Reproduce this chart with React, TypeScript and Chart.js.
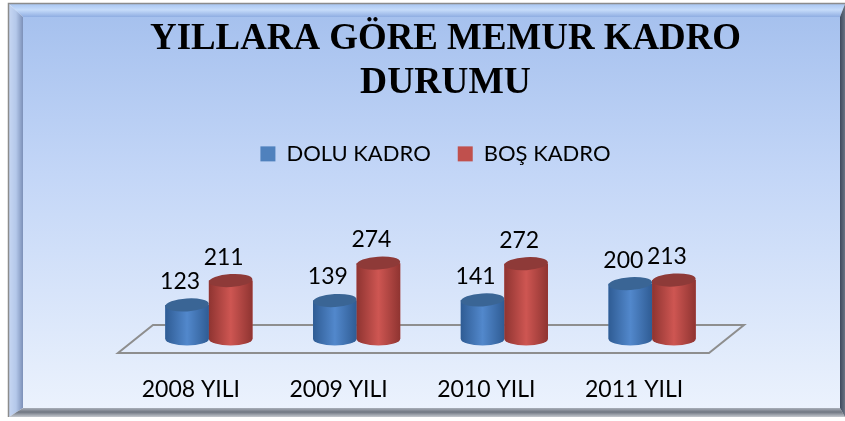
import React, { useEffect, useRef } from "react";
import { Chart, registerables } from "chart.js";

Chart.register(...registerables);

const titleLines = ["YILLARA GÖRE MEMUR KADRO", "DURUMU"];
const categories = ["2008 YILI", "2009 YILI", "2010 YILI", "2011 YILI"];
const doluKadro = [123, 139, 141, 200];
const bosKadro = [211, 274, 272, 213];
const seriesNames = ["DOLU KADRO", "BOŞ KADRO"];
const seriesColors = ["#4F81BD", "#C0504D"];

const W = 845;
const H = 421;

function shade(c: CanvasRenderingContext2D, x: number, w: number, edge: string, mid: string) {
  const g = c.createLinearGradient(x, 0, x + w, 0);
  g.addColorStop(0, edge);
  g.addColorStop(0.5, mid);
  g.addColorStop(1, edge);
  return g;
}

const framePlugin = {
  id: "frame",
  afterLayout(chart: any) {
    chart.titleBlock.left += 15;
    chart.titleBlock.right += 15;
    chart.legend.left += 5;
    chart.legend.right += 5;
    chart.legend.top += 2;
    chart.legend.bottom += 2;
  },
  beforeDraw(chart: any) {
    const c: CanvasRenderingContext2D = chart.ctx;
    c.save();
    c.fillStyle = "#ffffff";
    c.fillRect(0, 0, W, H);
    const L = 9, T = 4, R = 845, B = 417;
    const iL = 23, iT = 17, iR = 840, iB = 408;
    const bg = c.createLinearGradient(0, iT, 0, iB);
    bg.addColorStop(0, "#A6C1EE");
    bg.addColorStop(0.4, "#C3D6F7");
    bg.addColorStop(1, "#EBF2FD");
    c.fillStyle = bg;
    c.fillRect(iL, iT, iR - iL, iB - iT);
    const top = c.createLinearGradient(0, T, 0, iT);
    top.addColorStop(0, "#A9C6F2");
    top.addColorStop(0.45, "#C6DCFA");
    top.addColorStop(1, "#8FADE2");
    c.fillStyle = top;
    c.beginPath();
    c.moveTo(L, T); c.lineTo(R, T); c.lineTo(iR, iT); c.lineTo(iL, iT); c.closePath();
    c.fill();
    const left = c.createLinearGradient(L, 0, iL, 0);
    left.addColorStop(0, "#C6D6F2");
    left.addColorStop(0.5, "#B4C8EA");
    left.addColorStop(1, "#7C90B8");
    c.fillStyle = left;
    c.beginPath();
    c.moveTo(L, T); c.lineTo(iL, iT); c.lineTo(iL, iB); c.lineTo(L, B); c.closePath();
    c.fill();
    const bot = c.createLinearGradient(0, iB, 0, B);
    bot.addColorStop(0, "#A9AFB9");
    bot.addColorStop(0.45, "#6F7682");
    bot.addColorStop(1, "#C5C9CF");
    c.fillStyle = bot;
    c.beginPath();
    c.moveTo(iL, iB); c.lineTo(iR, iB); c.lineTo(R, B); c.lineTo(L, B); c.closePath();
    c.fill();
    const right = c.createLinearGradient(iR, 0, R, 0);
    right.addColorStop(0, "#3F4A5E");
    right.addColorStop(1, "#6A7483");
    c.fillStyle = right;
    c.beginPath();
    c.moveTo(iR, iT); c.lineTo(R, T); c.lineTo(R, B); c.lineTo(iR, iB); c.closePath();
    c.fill();
    c.strokeStyle = "#8C8C8C";
    c.lineWidth = 1.5;
    c.beginPath();
    c.moveTo(L - 0.5, B); c.lineTo(L - 0.5, T - 0.5); c.lineTo(R, T - 0.5);
    c.stroke();
    c.restore();
  },
};

const floorPlugin = {
  id: "floor",
  beforeDatasetsDraw(chart: any) {
    const c: CanvasRenderingContext2D = chart.ctx;
    const a = chart.chartArea;
    c.save();
    c.strokeStyle = "#8E8E8E";
    c.lineWidth = 2;
    c.beginPath();
    c.moveTo(a.left - 17, a.bottom + 14);
    c.lineTo(a.right - 17, a.bottom + 14);
    c.lineTo(a.right + 18, a.bottom - 14);
    c.lineTo(a.left + 18, a.bottom - 14);
    c.closePath();
    c.stroke();
    c.restore();
  },
};

const cylinderPalette = [
  { edge: "#2F5C94", mid: "#5288CC", top: "#3A6595" },
  { edge: "#8F3431", mid: "#CE5652", top: "#8E3A38" },
];

const cylinderPlugin = {
  id: "cylinders",
  afterDatasetsDraw(chart: any) {
    const c: CanvasRenderingContext2D = chart.ctx;
    const ry = 6.5;
    chart.data.datasets.forEach((ds: any, di: number) => {
      const meta = chart.getDatasetMeta(di);
      const pal = cylinderPalette[di];
      meta.data.forEach((bar: any, i: number) => {
        const rx = bar.width / 2;
        const cx = bar.x;
        const topY = bar.y;
        const baseY = bar.base;
        c.save();
        c.fillStyle = shade(c, cx - rx, rx * 2, pal.edge, pal.mid);
        c.beginPath();
        c.moveTo(cx - rx, topY);
        c.lineTo(cx - rx, baseY);
        c.ellipse(cx, baseY, rx, ry, 0, Math.PI, 0, true);
        c.lineTo(cx + rx, topY);
        c.closePath();
        c.fill();
        c.fillStyle = pal.top;
        c.beginPath();
        c.ellipse(cx, topY, rx, ry, -0.06, 0, Math.PI * 2);
        c.fill();
        c.fillStyle = "#000000";
        c.font = "23px Lato";
        c.textAlign = "center";
        c.textBaseline = "middle";
        c.fillText(String(ds.data[i]), cx - 7, topY - 23.5);
        c.restore();
      });
    });
  },
};

export default function App() {
  const ref = useRef<HTMLCanvasElement>(null);
  useEffect(() => {
    const chart = new Chart(ref.current!, {
      type: "bar",
      data: {
        labels: categories,
        datasets: [
          { label: seriesNames[0], data: doluKadro, backgroundColor: seriesColors[0], borderWidth: 0 },
          { label: seriesNames[1], data: bosKadro, backgroundColor: seriesColors[1], borderWidth: 0 },
        ],
      },
      options: {
        responsive: false,
        animation: false,
        events: [],
        layout: { padding: { left: 135, right: 119, top: 0, bottom: 0 } },
        datasets: { bar: { barPercentage: 1, categoryPercentage: 0.59 } },
        plugins: {
          title: {
            display: true,
            text: titleLines,
            color: "#000000",
            font: { family: "'Liberation Serif'", size: 37.5, weight: "bold", lineHeight: 1.185 },
            padding: { top: 17, bottom: 8 },
          },
          legend: {
            display: true,
            position: "top",
            labels: {
              color: "#000000",
              font: { family: "Lato", size: 22 },
              boxWidth: 15,
              boxHeight: 15,
              padding: 27,
            },
          },
          tooltip: { enabled: false },
        },
        scales: {
          x: {
            grid: { display: false },
            border: { display: false },
            ticks: { color: "#000000", font: { family: "Lato", size: 23 }, padding: 29, labelOffset: -18 },
            afterFit(scale: any) {
              scale.height = 82;
            },
          },
          y: {
            display: false,
            min: 0,
            max: 600,
          },
        },
      } as any,
      plugins: [framePlugin, floorPlugin, cylinderPlugin],
    });
    return () => chart.destroy();
  }, []);
  return (
    <div style={{ position: "absolute", left: 0, top: 0, width: W, height: H }}>
      <canvas ref={ref} width={W} height={H} style={{ display: "block" }} />
    </div>
  );
}
